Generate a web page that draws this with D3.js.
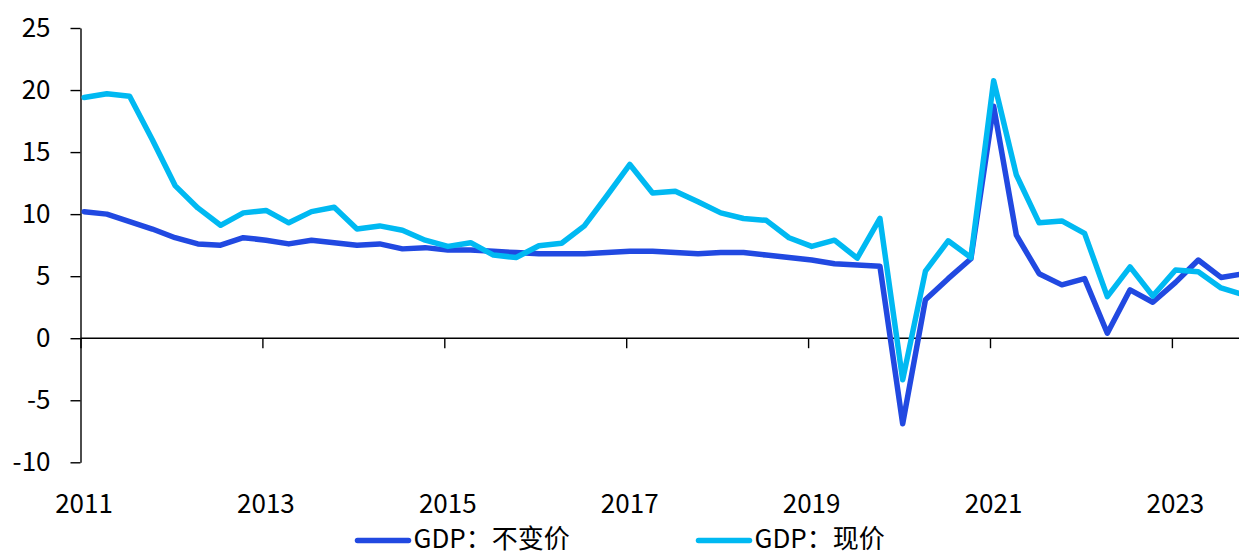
<!DOCTYPE html>
<html>
<head>
<meta charset="utf-8">
<script src="https://cdn.jsdelivr.net/npm/d3@7"></script>
<style>
  body { margin: 0; background: #fff; }
  svg { display: block; font-family: "Noto Sans CJK SC", "Noto Sans", sans-serif; }
</style>
</head>
<body>
<script>
var width = 1239;
var height = 555;
var realColor = "#2149e1";
var nominalColor = "#00b9f2";
var fontSize = 26;

// quarters 2011Q1 .. 2023Q4
var quarters = [];
for (var yr = 2011; yr <= 2023; yr++) {
    for (var q = 1; q <= 4; q++) quarters.push(yr + "Q" + q);
}

// GDP yoy, constant price (%)
var realGdp = [10.2, 10.0, 9.4, 8.8, 8.1, 7.6, 7.5, 8.1, 7.9, 7.6, 7.9, 7.7,
    7.5, 7.6, 7.2, 7.3, 7.1, 7.1, 7.0, 6.9, 6.8, 6.8, 6.8, 6.9,
    7.0, 7.0, 6.9, 6.8, 6.9, 6.9, 6.7, 6.5, 6.3, 6.0, 5.9, 5.8,
    -6.9, 3.1, 4.8, 6.4, 18.7, 8.3, 5.2, 4.3, 4.8, 0.4, 3.9, 2.9,
    4.5, 6.3, 4.9, 5.2];

// GDP yoy, current price (%)
var nominalGdp = [19.4, 19.7, 19.5, 16.0, 12.3, 10.5, 9.1, 10.1, 10.3, 9.3, 10.2, 10.55,
    8.8, 9.05, 8.7, 7.9, 7.4, 7.7, 6.7, 6.5, 7.45, 7.65, 9.05, 11.5,
    14.0, 11.7, 11.85, 11.0, 10.1, 9.65, 9.5, 8.1, 7.4, 7.9, 6.45, 9.65,
    -3.35, 5.4, 7.85, 6.5, 20.75, 13.15, 9.3, 9.45, 8.45, 3.35, 5.75, 3.4,
    5.5, 5.35, 4.05, 3.5];

var yearTicks = [2011, 2013, 2015, 2017, 2019, 2021, 2023];
var yTicks = [-10, -5, 0, 5, 10, 15, 20, 25];
var seriesNames = ["GDP：不变价", "GDP：现价"];

var quarterTime = function(label) {
    var parts = label.split("Q");
    return +parts[0] + (parts[1] - 1) / 4 + 0.04;
};

var svg = d3.select("body").append("svg")
    .attr("width", width)
    .attr("height", height);

var x = d3.scaleLinear()
    .domain([2011, 2024])
    .range([80.5, 80.5 + 13 * 90.95]);

var y = d3.scaleLinear()
    .domain([-10, 25])
    .range([462.3, 28]);

// y axis (plain hyphen for negatives, like the original)
var yAxis = svg.append("g")
    .attr("transform", "translate(" + x(2011) + ",0)")
    .call(d3.axisLeft(y).tickValues(yTicks)
        .tickFormat(function(d) { return String(d); })
        .tickSize(10).tickSizeOuter(0).tickPadding(20));
yAxis.selectAll("text")
    .attr("font-size", fontSize)
    .attr("font-family", "Noto Sans CJK SC")
    .attr("fill", "#000");

// x axis on the zero line
var xAxis = svg.append("g")
    .attr("transform", "translate(0," + y(0) + ")")
    .call(d3.axisBottom(x).tickValues(yearTicks)
        .tickFormat(function(d) { return String(d); })
        .tickSize(10).tickSizeOuter(0).tickPadding(0));
xAxis.select(".domain").attr("d", "M" + x(2011) + ",0H" + width);
xAxis.selectAll(".tick text")
    .attr("font-size", fontSize)
    .attr("font-family", "Noto Sans CJK SC")
    .attr("fill", "#000")
    .attr("dy", null)
    .attr("dx", 3)
    .attr("y", 175);

svg.selectAll(".domain, .tick line")
    .attr("stroke", "#000")
    .attr("stroke-width", 1.4);

var line = d3.line()
    .x(function(d, i) { return x(quarterTime(quarters[i])); })
    .y(function(d) { return y(d); });

var series = [realGdp, nominalGdp];
var colors = [realColor, nominalColor];

series.forEach(function(values, k) {
    svg.append("path")
        .datum(values)
        .attr("d", line)
        .attr("fill", "none")
        .attr("stroke", colors[k])
        .attr("stroke-width", 5.5)
        .attr("stroke-linejoin", "round")
        .attr("stroke-linecap", "round");
});

// legend
var legendX = [357.5, 698.5];
seriesNames.forEach(function(name, k) {
    svg.append("line")
        .attr("x1", legendX[k])
        .attr("x2", legendX[k] + 51)
        .attr("y1", 540.5)
        .attr("y2", 540.5)
        .attr("stroke", colors[k])
        .attr("stroke-width", 5.5)
        .attr("stroke-linecap", "round");
    svg.append("text")
        .attr("x", legendX[k] + 56)
        .attr("y", 548)
        .attr("font-size", fontSize)
        .attr("fill", "#000")
        .text(name);
});
</script>
</body>
</html>
